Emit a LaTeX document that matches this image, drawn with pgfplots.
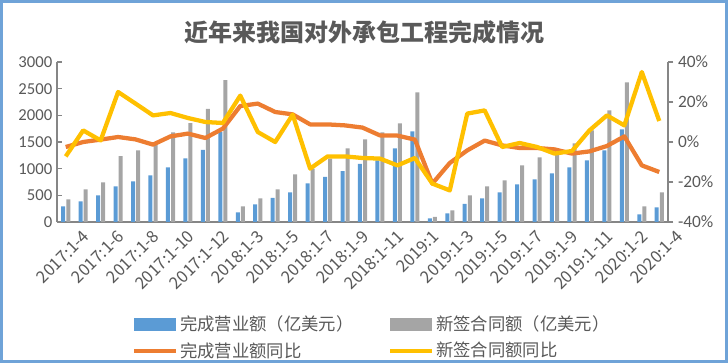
\documentclass[border=0pt]{standalone}
\usepackage{pgfplots}
\usepackage{pgfplotstable}
\pgfplotsset{compat=1.18}
\usepackage{fontspec}
\setmainfont{Carlito}
\newfontfamily\cjk{Noto Sans CJK SC}
\definecolor{barblue}{HTML}{5B9BD5}
\definecolor{bargray}{HTML}{A5A5A5}
\definecolor{lorange}{HTML}{ED7D31}
\definecolor{lyellow}{HTML}{FFC000}
\definecolor{txtgray}{HTML}{595959}
\definecolor{axgray}{HTML}{868686}
\definecolor{framebl}{HTML}{6FA3D8}

\pgfplotstableread{
x blue gray orange yellow
0 294 425 -2.5 -7.2
1 388 612 0 5.8
2 500 744 1.2 0.8
3 669 1237 2.5 25
4 762 1344 1.3 19.2
5 875 1480 -1.3 13.3
6 1025 1681 2.8 14.5
7 1194 1856 4.2 12
8 1350 2119 2 10
9 1688 2660 6.7 9.5
10 181 294 18 23.2
11 331 444 19.2 5
12 450 612 15 0
13 556 894 13.8 13.7
14 725 1000 8.8 -13.3
15 844 1188 8.8 -7.2
16 956 1381 8.3 -7.2
17 1088 1550 7.2 -8
18 1156 1681 3.3 -8.3
19 1381 1850 3.2 -11.7
20 1700 2431 1.2 -8
21 69 94 -20.8 -20.8
22 163 219 -10.5 -24.2
23 338 500 -4.2 14.2
24 444 669 0.7 15.8
25 556 781 -1.7 -2.5
26 706 1063 -3 -0.5
27 800 1213 -3 -2.5
28 913 1344 -3.7 -5.8
29 1025 1475 -5.8 -4.5
30 1156 1719 -4.7 5.8
31 1344 2094 -2 13.3
32 1738 2619 2.8 8.3
33 144 294 -11.7 35
34 275 556 -15 10.5
}\datatable

\begin{document}
\begin{tikzpicture}
\useasboundingbox (0,0) rectangle (546pt,272.25pt);
\draw[framebl, line width=2pt] (1pt,1pt) rectangle (545pt,271.25pt);
\node[font=\cjk\bfseries\fontsize{18}{18}\selectfont, text=txtgray] at (273pt,248pt) {近年来我国对外承包工程完成情况};

\begin{axis}[
  at={(42.75pt,105.75pt)}, anchor=south west,
  scale only axis, width=458.25pt, height=120pt,
  xmin=-0.5, xmax=34.5, ymin=0, ymax=3000,
  ytick={0,500,...,3000},
  xtick={0,2,...,34},
  xticklabels={2017:1-4,2017:1-6,2017:1-8,2017:1-10,2017:1-12,2018:1-3,2018:1-5,2018:1-7,2018:1-9,2018:1-11,2019:1,2019:1-3,2019:1-5,2019:1-7,2019:1-9,2019:1-11,2020:1-2,2020:1-4},
  xticklabel style={rotate=45, anchor=east, font=\cjk\fontsize{12.5}{12.5}\selectfont, text=txtgray, inner sep=1pt, xshift=6pt, yshift=-17pt},
  yticklabel style={font=\fontsize{12.5}{12.5}\selectfont, text=txtgray},
  /pgf/number format/assume math mode=true,
  /pgf/number format/1000 sep={},
  axis y line*=left, axis x line*=bottom,
  axis line style={axgray, line width=1pt, -},
  major x tick style={draw=none},
  major y tick style={axgray, line width=1pt},
  ytick align=inside, major tick length=4pt,
  clip=false,
]
\addplot[ybar, bar width=3pt, bar shift=-1.9pt, fill=barblue, draw=none] table[x=x, y=blue] {\datatable};
\addplot[ybar, bar width=3pt, bar shift=1.9pt, fill=bargray, draw=none] table[x=x, y=gray] {\datatable};
\end{axis}

\begin{axis}[
  at={(42.75pt,105.75pt)}, anchor=south west,
  scale only axis, width=458.25pt, height=120pt,
  xmin=-0.5, xmax=34.5, ymin=-40, ymax=40,
  ytick={-40,-20,...,40},
  yticklabel={\pgfmathprintnumber{\tick}\%},
  yticklabel style={font=\fontsize{13}{13}\selectfont, text=txtgray},
  /pgf/number format/assume math mode=true,
  axis y line*=right, axis x line=none,
  axis line style={axgray, line width=1pt, -},
  major y tick style={axgray, line width=1pt},
  ytick align=outside, major tick length=4pt,
  legend columns=2,
  legend style={at={(0.516,-0.57)}, anchor=north, draw=none, fill=none,
    font=\cjk\fontsize{13}{13}\selectfont, text=txtgray,
    /tikz/every even column/.append style={column sep=24pt},
    row sep=3pt, inner sep=0pt},
  legend cell align=left,
]
\addlegendimage{legend image code/.code={\fill[barblue] (0pt,-4.5pt) rectangle (31pt,4.5pt);}}
\addlegendentry{完成营业额（亿美元）}
\addlegendimage{legend image code/.code={\fill[bargray] (0pt,-4.5pt) rectangle (31pt,4.5pt);}}
\addlegendentry{新签合同额（亿美元）}
\addlegendimage{legend image code/.code={\draw[lorange, line width=3pt] (0pt,0pt) -- (31pt,0pt);}}
\addlegendentry{完成营业额同比}
\addlegendimage{legend image code/.code={\draw[lyellow, line width=3pt] (0pt,0pt) -- (31pt,0pt);}}
\addlegendentry{新签合同额同比}
\addplot[lorange, line width=3.2pt, line join=round, no markers, forget plot] table[x=x, y=orange] {\datatable};
\addplot[lyellow, line width=3.2pt, line join=round, no markers, forget plot] table[x=x, y=yellow] {\datatable};
\end{axis}
\end{tikzpicture}
\end{document}
